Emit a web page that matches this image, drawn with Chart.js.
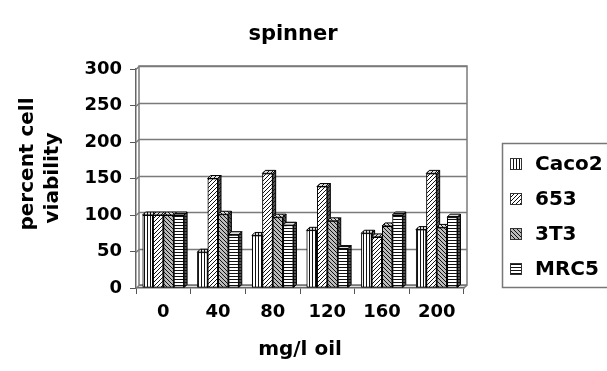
<!DOCTYPE html>
<html>
<head>
<meta charset="utf-8">
<title>spinner</title>
<script src="https://cdn.jsdelivr.net/npm/chart.js@4/dist/chart.umd.min.js"></script>
<style>
  html, body { margin: 0; padding: 0; background: #fff; }
  #chart { display: block; }
</style>
</head>
<body>
<canvas id="chart" width="607" height="371"></canvas>
<script>
// ===== Data =====
const doses = ['0', '40', '80', '120', '160', '200'];
const caco2 = [100, 49, 72, 79, 75, 80];
const line653 = [100, 150, 157, 139, 70, 157];
const line3T3 = [100, 101, 97, 92, 85, 83];
const mrc5 = [100, 73, 86, 54, 100, 97];
const seriesNames = ['Caco2', '653', '3T3', 'MRC5'];
const yTicks = [0, 50, 100, 150, 200, 250, 300];

const FONT = '"DejaVu Sans", Arial, sans-serif';
const depth = 3;

// ===== Hatch patterns =====
function makePattern(kind, bg) {
  const c = document.createElement('canvas');
  const size = kind === 'v' || kind === 'h' ? 3 : 4;
  c.width = size; c.height = size;
  const g = c.getContext('2d');
  g.fillStyle = bg;
  g.fillRect(0, 0, size, size);
  g.fillStyle = '#111';
  if (kind === 'v') g.fillRect(0, 0, 1, size);
  if (kind === 'h') g.fillRect(0, 0, size, 1);
  if (kind === 'f' || kind === 'b') {
    for (let i = 0; i < size; i++) {
      const x = kind === 'f' ? size - 1 - i : i;
      g.fillRect(x, i, 1, 1);
    }
  }
  return g.createPattern(c, 'repeat');
}
const kinds = ['v', 'f', 'b', 'h'];
const fronts = kinds.map(k => makePattern(k, '#fff'));
fronts[2] = makePattern('b', '#bbb');
const tops = kinds.map(k => makePattern(k, '#ddd'));
const sides = kinds.map(k => makePattern(k, '#555'));

// ===== Back wall & grid =====
const wallPlugin = {
  id: 'wall',
  beforeDatasetsDraw(chart) {
    const { ctx, chartArea: a, scales: { y } } = chart;
    ctx.save();
    ctx.strokeStyle = '#7a7a7a';
    ctx.lineWidth = 1.5;
    yTicks.forEach(v => {
      const py = Math.round(y.getPixelForValue(v) - depth) + 0.5;
      ctx.beginPath();
      ctx.moveTo(a.left + depth, py);
      ctx.lineTo(a.right + depth, py);
      ctx.stroke();
      // left side wall
      ctx.beginPath();
      ctx.moveTo(a.left, py + depth);
      ctx.lineTo(a.left + depth, py);
      ctx.stroke();
    });
    ctx.strokeRect(a.left + depth, a.top - depth, a.right - a.left, a.bottom - a.top);
    ctx.beginPath();
    ctx.moveTo(a.right, a.bottom);
    ctx.lineTo(a.right + depth, a.bottom - depth);
    ctx.stroke();
    ctx.restore();
  }
};

// ===== 3D bars =====
const barPlugin = {
  id: 'bars3d',
  afterDatasetsDraw(chart) {
    const ctx = chart.ctx;
    ctx.save();
    ctx.strokeStyle = '#000';
    ctx.lineWidth = 1;
    doses.forEach((d, i) => {
      chart.data.datasets.forEach((ds, k) => {
        const el = chart.getDatasetMeta(k).data[i];
        el.draw(ctx);
        const { x, y, base, width } = el.getProps(['x', 'y', 'base', 'width'], true);
        const l = x - width / 2, r = x + width / 2;
        ctx.beginPath();
        ctx.moveTo(l, y); ctx.lineTo(l + depth, y - depth);
        ctx.lineTo(r + depth, y - depth); ctx.lineTo(r, y); ctx.closePath();
        ctx.fillStyle = tops[k]; ctx.fill(); ctx.stroke();
        ctx.beginPath();
        ctx.moveTo(r, y); ctx.lineTo(r + depth, y - depth);
        ctx.lineTo(r + depth, base - depth); ctx.lineTo(r, base); ctx.closePath();
        ctx.fillStyle = sides[k]; ctx.fill(); ctx.stroke();
      });
    });
    ctx.restore();
  }
};

// ===== Titles & legend =====
const textPlugin = {
  id: 'texts',
  afterDraw(chart) {
    const ctx = chart.ctx;
    ctx.save();
    ctx.fillStyle = '#000';
    ctx.textAlign = 'center';
    ctx.textBaseline = 'middle';
    ctx.font = 'bold 21px ' + FONT;
    ctx.fillText('spinner', 293, 35);

    ctx.font = 'bold 20px ' + FONT;
    ctx.save();
    ctx.translate(28, 164);
    ctx.rotate(-Math.PI / 2);
    ctx.fillText('percent cell', 0, 0);
    ctx.restore();
    ctx.save();
    ctx.translate(53, 178);
    ctx.rotate(-Math.PI / 2);
    ctx.fillText('viability', 0, 0);
    ctx.restore();

    // legend box
    ctx.strokeStyle = '#777';
    ctx.lineWidth = 1.5;
    ctx.strokeRect(502.5, 143.5, 110, 144);
    ctx.textAlign = 'left';
    ctx.font = 'bold 20px ' + FONT;
    seriesNames.forEach((name, k) => {
      const cy = 164 + k * 35;
      ctx.fillStyle = fronts[k];
      ctx.fillRect(510, cy - 6, 12, 12);
      ctx.strokeStyle = '#333';
      ctx.lineWidth = 1;
      ctx.strokeRect(510.5, cy - 5.5, 11, 11);
      ctx.fillStyle = '#000';
      ctx.fillText(name, 535, cy + 1);
    });
    ctx.restore();
  }
};

// ===== Chart =====
const allValues = [caco2, line653, line3T3, mrc5];
new Chart(document.getElementById('chart'), {
  type: 'bar',
  data: {
    labels: doses,
    datasets: seriesNames.map((name, k) => ({
      label: name,
      data: allValues[k],
      backgroundColor: fronts[k],
      borderColor: '#000',
      borderWidth: 1,
      borderSkipped: false,
      categoryPercentage: 0.76,
      barPercentage: 1.0
    }))
  },
  options: {
    responsive: false,
    animation: false,
    devicePixelRatio: 1,
    layout: { padding: { top: 69, left: 0, right: 143, bottom: 0 } },
    plugins: {
      legend: { display: false },
      title: { display: false },
      tooltip: { enabled: false }
    },
    scales: {
      x: {
        grid: { drawOnChartArea: false, drawTicks: true, tickLength: 6, color: '#555', lineWidth: 1 },
        border: { display: true, color: '#666', width: 1.5 },
        ticks: { color: '#000', font: { family: FONT, size: 18, weight: 'bold' }, padding: 8, maxRotation: 0 },
        title: { display: true, text: 'mg/l oil', color: '#000', font: { family: FONT, size: 20, weight: 'bold' }, padding: { top: 0, bottom: 9 } },
        afterFit(scale) { scale.height = 83; }
      },
      y: {
        min: 0,
        max: 300,
        grid: { drawOnChartArea: false, drawTicks: true, tickLength: 6, color: '#555', lineWidth: 1 },
        border: { display: true, color: '#666', width: 1.5 },
        ticks: { stepSize: 50, color: '#000', font: { family: FONT, size: 18, weight: 'bold' }, padding: 8 },
        afterFit(scale) { scale.width = 136; }
      }
    }
  },
  plugins: [wallPlugin, barPlugin, textPlugin]
});
</script>
</body>
</html>
